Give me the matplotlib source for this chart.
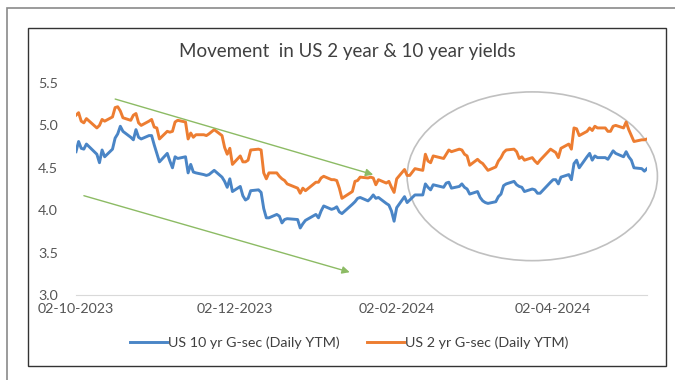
import matplotlib
matplotlib.use("Agg")
import matplotlib.pyplot as plt
import matplotlib.dates as mdates
from matplotlib.patches import Ellipse, Rectangle
import pandas as pd

plt.rcParams["font.family"] = ["Lato", "DejaVu Sans"]

# trading days covered by the series
start_date = "2023-10-02"
end_date = "2024-05-08"
market_holidays = ["2023-10-09", "2023-11-23", "2023-12-25", "2024-01-01",
                   "2024-01-15", "2024-02-19", "2024-03-29"]

# daily yields, %
us10y = [
    # Oct
    4.69, 4.81, 4.73, 4.72, 4.78, 4.66, 4.56, 4.71, 4.63, 4.72, 4.85, 4.90,
    4.99, 4.93, 4.86, 4.83, 4.95, 4.86, 4.84, 4.88, 4.88,
    # Nov
    4.77, 4.67, 4.57, 4.67, 4.58, 4.50, 4.63, 4.61, 4.63, 4.44, 4.54, 4.45,
    4.44, 4.42, 4.41, 4.42, 4.47, 4.39, 4.34, 4.27, 4.37,
    # Dec
    4.22, 4.28, 4.17, 4.12, 4.14, 4.23, 4.24, 4.21, 4.02, 3.91, 3.91, 3.95,
    3.93, 3.85, 3.89, 3.90, 3.89, 3.79, 3.84, 3.88,
    # Jan
    3.95, 3.91, 3.99, 4.05, 4.01, 4.02, 4.04, 3.98, 3.96, 4.07, 4.10, 4.14,
    4.15, 4.11, 4.14, 4.18, 4.14, 4.15, 4.08, 4.06, 3.99,
    # Feb
    3.87, 4.03, 4.16, 4.09, 4.12, 4.15, 4.18, 4.18, 4.31, 4.27, 4.24, 4.30,
    4.27, 4.32, 4.33, 4.26, 4.28, 4.31, 4.27, 4.25,
    # Mar
    4.19, 4.22, 4.15, 4.11, 4.09, 4.08, 4.10, 4.16, 4.19, 4.29, 4.31, 4.34,
    4.30, 4.28, 4.27, 4.22, 4.25, 4.24, 4.20, 4.20,
    # Apr
    4.33, 4.36, 4.36, 4.31, 4.39, 4.42, 4.36, 4.55, 4.59, 4.50, 4.63, 4.67,
    4.59, 4.64, 4.62, 4.62, 4.60, 4.65, 4.70, 4.67, 4.63, 4.69,
    # May
    4.63, 4.59, 4.50, 4.49, 4.46, 4.49,
]
us2y = [
    # Oct
    5.12, 5.15, 5.05, 5.03, 5.08, 4.97, 5.00, 5.07, 5.05, 5.10, 5.21, 5.22,
    5.17, 5.09, 5.06, 5.12, 5.14, 5.03, 5.00, 5.05, 5.07,
    # Nov
    4.98, 4.97, 4.84, 4.93, 4.92, 4.93, 5.04, 5.06, 5.04, 4.84, 4.91, 4.86,
    4.89, 4.89, 4.88, 4.90, 4.95, 4.88, 4.74, 4.66, 4.73,
    # Dec
    4.54, 4.64, 4.57, 4.57, 4.59, 4.71, 4.72, 4.71, 4.44, 4.37, 4.44, 4.44,
    4.40, 4.37, 4.35, 4.31, 4.26, 4.20, 4.26, 4.23,
    # Jan
    4.33, 4.33, 4.38, 4.40, 4.36, 4.36, 4.35, 4.26, 4.14, 4.22, 4.34, 4.35,
    4.39, 4.38, 4.39, 4.38, 4.30, 4.36, 4.32, 4.34, 4.27,
    # Feb
    4.21, 4.37, 4.48, 4.41, 4.41, 4.45, 4.49, 4.47, 4.66, 4.58, 4.56, 4.64,
    4.61, 4.66, 4.71, 4.69, 4.72, 4.71, 4.66, 4.64,
    # Mar
    4.53, 4.60, 4.57, 4.55, 4.51, 4.47, 4.51, 4.58, 4.62, 4.68, 4.71, 4.72,
    4.69, 4.61, 4.63, 4.59, 4.62, 4.58, 4.55, 4.59,
    # Apr
    4.72, 4.70, 4.68, 4.62, 4.73, 4.78, 4.72, 4.97, 4.96, 4.88, 4.93, 4.97,
    4.94, 4.99, 4.97, 4.97, 4.93, 4.93, 4.99, 5.00, 4.97, 5.04,
    # May
    4.95, 4.88, 4.81, 4.83, 4.83, 4.84,
]

tick_dates = ["2023-10-02", "2023-12-02", "2024-02-02", "2024-04-02"]
y_ticks = [3.0, 3.5, 4.0, 4.5, 5.0, 5.5]

title = "Movement  in US 2 year & 10 year yields"
label_10y = "US 10 yr G-sec (Daily YTM)"
label_2y = "US 2 yr G-sec (Daily YTM)"

dates = pd.bdate_range(start_date, end_date).drop(pd.to_datetime(market_holidays))

W, H = 675, 380
fig = plt.figure(figsize=(W / 100, H / 100), dpi=100)
fig.patch.set_facecolor("white")

# chart frames
fig.patches.append(Rectangle((7 / W, 1 - 390 / H), 680 / W, 382 / H, fill=False,
                             edgecolor="#8a8a8a", lw=1.2, transform=fig.transFigure))
fig.patches.append(Rectangle((28 / W, 1 - 366 / H), 638 / W, 338 / H, fill=False,
                             edgecolor="#333333", lw=1.0, transform=fig.transFigure))

ax = fig.add_axes([76 / W, 1 - 295 / H, (647 - 76) / W, (295 - 83) / H])
blue = "#4a85c6"
orange = "#ed7d31"
l1, = ax.plot(dates, us10y, color=blue, lw=2.1, label=label_10y)
l2, = ax.plot(dates, us2y, color=orange, lw=2.1, label=label_2y)

ax.set_ylim(3.0, 5.5)
ax.set_yticks(y_ticks)
ax.yaxis.set_major_formatter(matplotlib.ticker.FormatStrFormatter("%.1f"))
ax.set_xlim(dates[0], dates[-1])
ax.set_xticks(pd.to_datetime(tick_dates))
ax.xaxis.set_major_formatter(mdates.DateFormatter("%d-%m-%Y"))

for side in ["top", "right", "left"]:
    ax.spines[side].set_visible(False)
ax.spines["bottom"].set_color("#d9d9d9")
ax.tick_params(length=0, colors="#555555", labelsize=10.3)
ax.tick_params(axis="y", pad=13)
ax.tick_params(axis="x", pad=6)

# trend arrows
arrow_style = dict(arrowstyle="-|>", color="#8cbb64", lw=1.0, mutation_scale=11)
d = lambda s: mdates.date2num(pd.Timestamp(s))
ax.annotate("", xy=(d("2024-01-25"), 4.41), xytext=(d("2023-10-16"), 5.32),
            arrowprops=arrow_style)
ax.annotate("", xy=(d("2024-01-16"), 3.26), xytext=(d("2023-10-04"), 4.18),
            arrowprops=arrow_style)

# recent rebound highlighted
ax.add_patch(Ellipse((d("2024-03-25"), 4.40), width=96, height=1.99, fill=False,
                     edgecolor="#c0c0c0", lw=1.2, clip_on=False))

fig.text(347 / W, 1 - 52 / H, title, ha="center", va="center",
         fontsize=13.5, color="#404040")

fig.legend([l1, l2], [label_10y, label_2y], loc="center",
           bbox_to_anchor=(349 / W, 1 - 343 / H), ncol=2, frameon=False,
           fontsize=10.3, handlelength=2.6, handletextpad=0.05, columnspacing=1.9,
           labelcolor="#404040")

fig.savefig("out.png", dpi=100)
